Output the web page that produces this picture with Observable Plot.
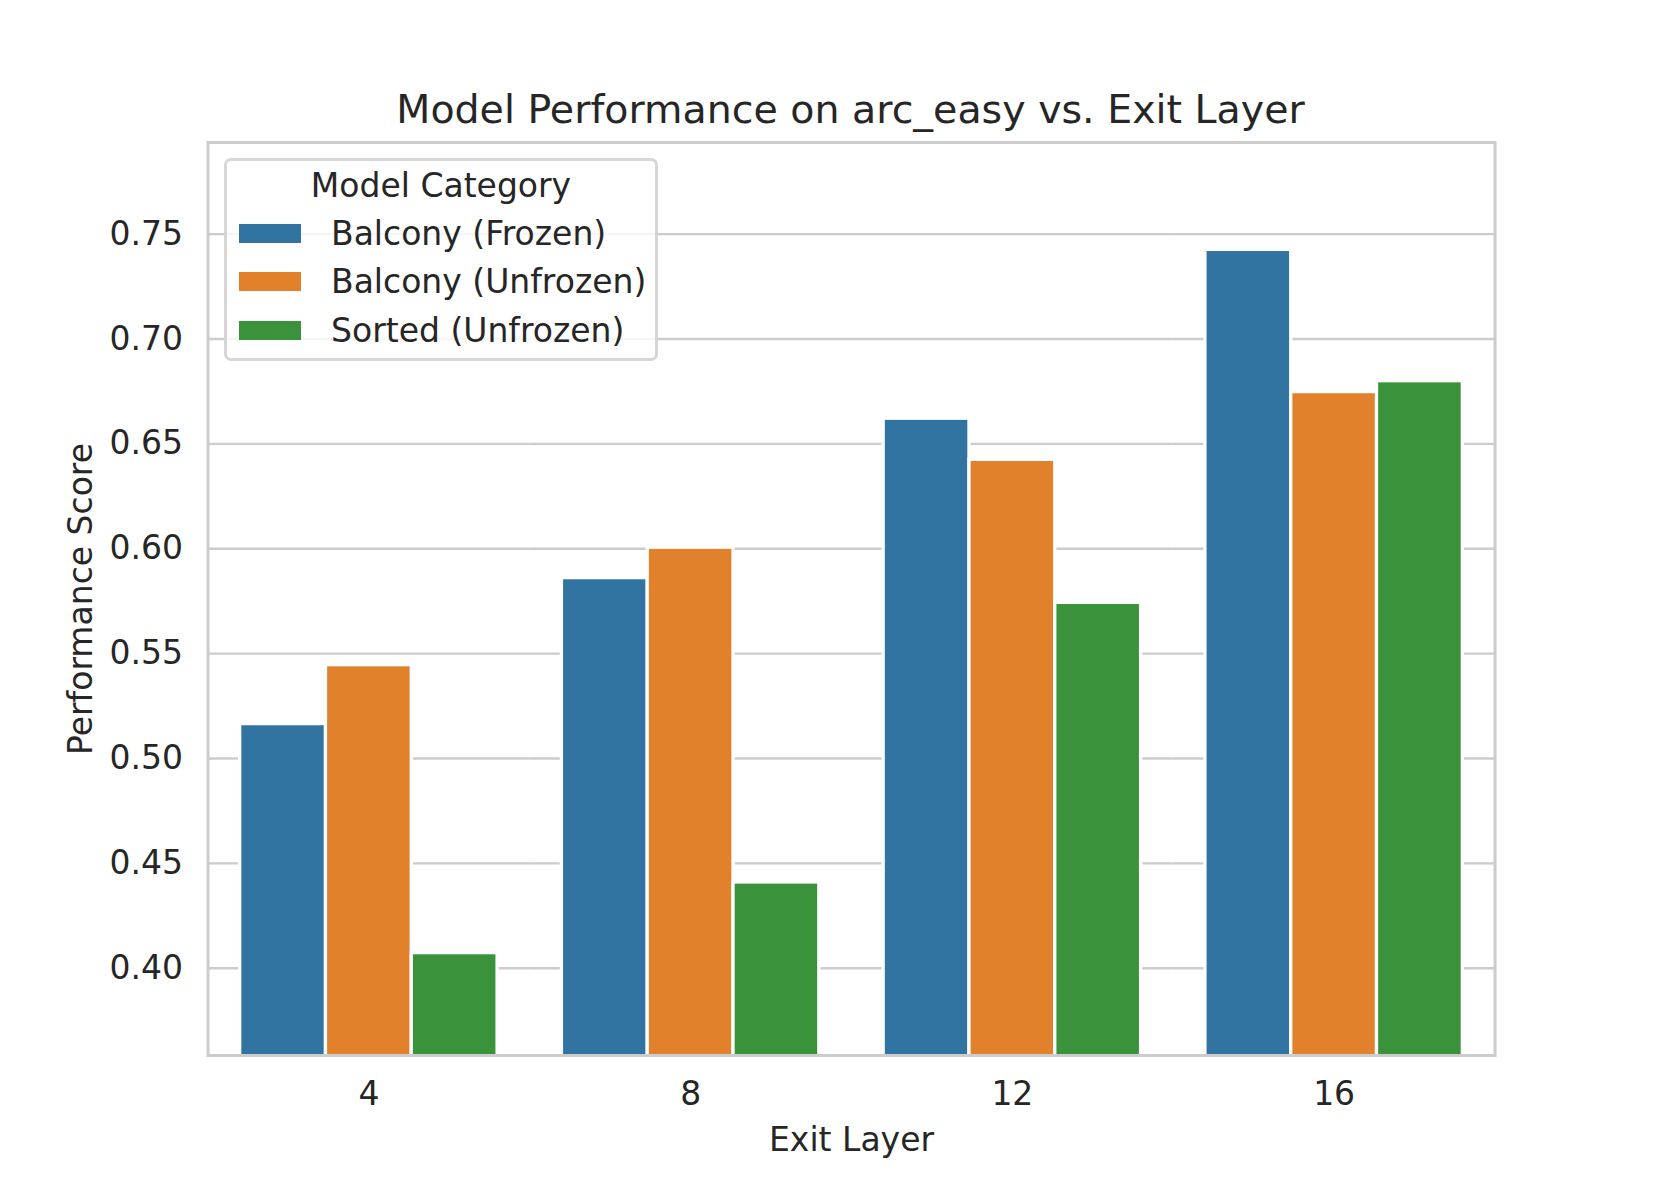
<!DOCTYPE html>
<html><head><meta charset="utf-8">
<script src="https://cdn.jsdelivr.net/npm/d3@7"></script>
<script src="https://cdn.jsdelivr.net/npm/@observablehq/plot@0.6"></script>
<style>
body{margin:0;background:#fff;font-family:"DejaVu Sans",sans-serif;color:#262626}
#wrap{position:relative;width:1661px;height:1186px;background:#fff}
#title{box-sizing:border-box;height:130px;padding-top:86px;line-height:46px;margin-left:207px;width:1287px;text-align:center;font-size:39.5px;white-space:nowrap}
#legend{position:absolute;left:224px;top:158px;width:434px;height:203px;box-sizing:border-box;border:3px solid rgba(204,204,204,0.8);border-radius:7px;background:rgba(255,255,255,0.8)}
#legend .lt{position:absolute;left:0;width:100%;top:7px;line-height:36px;text-align:center;font-size:33px}
#legend .row{position:absolute;left:0;height:36px;line-height:36px;font-size:33px;white-space:nowrap}
#legend .sw{position:absolute;left:12px;top:8px;width:62px;height:19px}
#legend .lab{position:absolute;left:104px;top:0}
svg{display:block}
</style></head><body>
<div id="wrap">
<div id="title">Model Performance on arc_easy vs. Exit Layer</div>
<div id="chart"></div>
<div id="legend"></div>
</div>
<script>
const layers = [4, 8, 12, 16];
const categories = ["Balcony (Frozen)", "Balcony (Unfrozen)", "Sorted (Unfrozen)"];
const balconyFrozen = [0.5164, 0.586, 0.662, 0.7425];
const balconyUnfrozen = [0.5445, 0.6005, 0.6424, 0.6747];
const sortedUnfrozen = [0.4072, 0.4409, 0.5742, 0.6799];
const colors = ["#3274a1", "#e1812c", "#3a923a"];
const yTicks = [0.40, 0.45, 0.50, 0.55, 0.60, 0.65, 0.70, 0.75];
const yDomain = [0.3584, 0.7937];
const legendTitle = "Model Category";
const xLabel = "Exit Layer";
const yLabel = "Performance Score";

const series = [balconyFrozen, balconyUnfrozen, sortedUnfrozen];
const rows = layers.flatMap((l, i) => categories.map((c, j) => ({layer: l, cat: c, value: series[j][i]})));

const chart = Plot.plot({
  width: 1661, height: 1056,
  marginTop: 12, marginBottom: 131, marginLeft: 207.5, marginRight: 166.5,
  style: {fontFamily: "DejaVu Sans", fontSize: "33px", color: "#262626", background: "transparent", overflow: "visible"},
  fx: {domain: layers, paddingInner: 0, paddingOuter: 0, round: false},
  x: {domain: categories, paddingInner: 0, paddingOuter: 0.375, axis: null, round: false},
  y: {domain: yDomain},
  color: {domain: categories, range: colors},
  marks: [
    Plot.gridY(yTicks, {stroke: "#cccccc", strokeOpacity: 1, strokeWidth: 2.4}),
    Plot.barY(rows, {fx: "layer", x: "cat", y: "value", fill: "cat", stroke: "white", strokeWidth: 3.3, clip: true}),
    Plot.frame({facet: "super", stroke: "#cccccc", strokeWidth: 3}),
    Plot.axisY(yTicks, {tickSize: 0, tickPadding: 25, tickFormat: ".2f", label: yLabel, labelAnchor: "center", labelOffset: 139, labelArrow: "none"}),
    Plot.axisFx({anchor: "bottom", tickSize: 0, tickPadding: 26, label: xLabel, labelAnchor: "center", labelOffset: 95, labelArrow: "none"})
  ]
});
document.getElementById("chart").appendChild(chart);

const leg = document.getElementById("legend");
const t = document.createElement("div"); t.className = "lt"; t.textContent = legendTitle; leg.appendChild(t);
categories.forEach((c, j) => {
  const r = document.createElement("div"); r.className = "row";
  r.style.top = (55 + j * 48.3) + "px";
  const sw = document.createElement("div"); sw.className = "sw"; sw.style.background = colors[j];
  const lab = document.createElement("div"); lab.className = "lab"; lab.textContent = c;
  r.appendChild(sw); r.appendChild(lab); leg.appendChild(r);
});
</script>
</body></html>
